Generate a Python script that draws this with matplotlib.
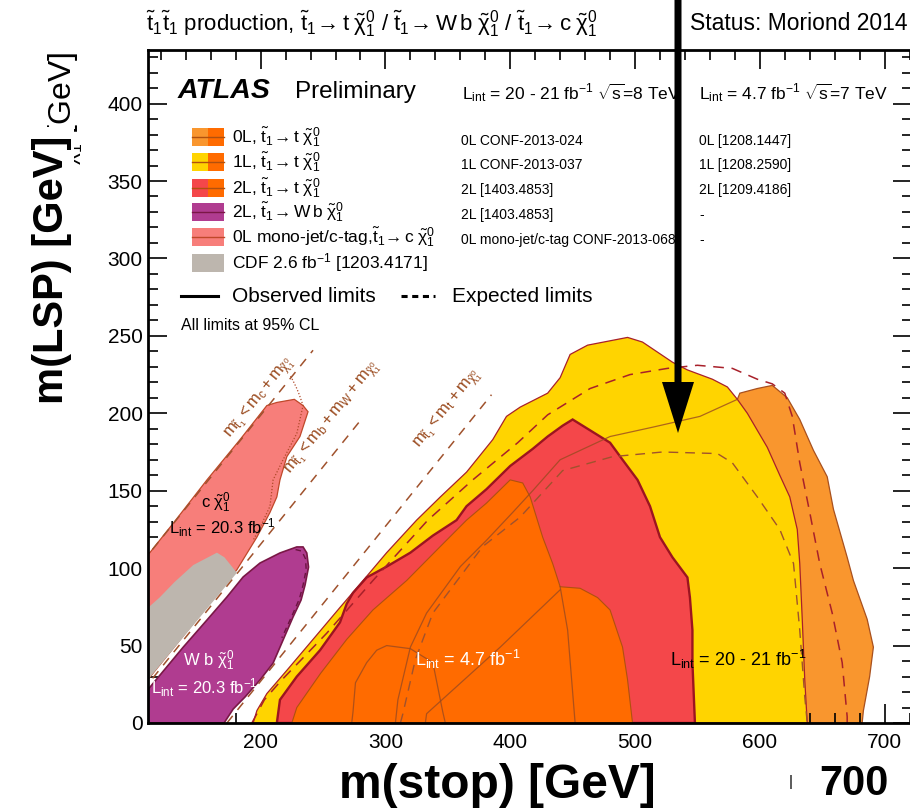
import matplotlib
matplotlib.use('Agg')
import matplotlib.pyplot as plt
from matplotlib.patches import Polygon, Rectangle
from matplotlib.lines import Line2D
from matplotlib.ticker import MultipleLocator

plt.rcParams['font.family'] = ['Liberation Sans', 'DejaVu Sans']
plt.rcParams['mathtext.fontset'] = 'custom'
plt.rcParams['mathtext.rm'] = 'Liberation Sans'
plt.rcParams['mathtext.it'] = 'Liberation Sans'
plt.rcParams['mathtext.bf'] = 'Liberation Sans:bold'

# ---------------- data (m_stop [GeV], m_LSP [GeV]) ----------------
# 0L 8 TeV observed exclusion (light orange)
lo_x = [308, 310, 320, 333, 360, 381, 402, 418, 440, 480, 514, 552, 582,
        584, 598, 610, 622, 632, 643, 654, 659, 670, 675, 686, 691, 688, 683, 682]
lo_y = [0, 15, 49, 71, 101, 118, 136, 150, 170, 185, 191, 198, 209,
        213, 216, 218, 210, 196, 176, 159, 138, 107, 92, 67, 49, 30, 8, 0]
# 1L 8 TeV observed exclusion (yellow)
yel_x = [194, 197, 205, 221, 242, 264, 280, 301, 325, 344, 365, 386, 397, 408, 430, 440,
         448, 462, 494, 506, 530, 542, 562, 574, 582, 590, 606, 616, 624, 630, 632, 634, 636, 638]
yel_y = [0, 8, 19, 34, 54, 75, 90, 110, 131, 146, 162, 183, 198, 204, 213, 223,
         238, 244, 249, 246, 233, 228, 222, 217, 209, 200, 178, 160, 146, 125, 103, 67, 28, 0]
# 2L 8 TeV observed exclusion (red)
red_x = [213, 215.5, 229, 247.6, 263.6, 269, 274, 285, 301, 320, 338, 357, 365, 381, 400, 418, 430,
         442, 450, 464, 480, 490, 502, 512, 520, 530, 542, 544, 546, 546, 548]
red_y = [0, 15, 30, 47, 65, 77, 84, 94, 101, 110, 121, 131, 140, 151, 166, 177, 185,
         192, 196, 189, 181, 170, 157, 140, 120, 107, 94, 81, 60, 39, 0]
# 7 TeV exclusions (dark orange, union)
do_x = [225, 229, 248, 269, 290, 317, 344, 365, 381, 400, 410, 416, 426, 434, 440,
        456, 470, 480, 490, 494, 498]
do_y = [0, 10, 32, 54, 73, 92, 114, 131, 142, 157, 155, 146, 120, 103, 88,
        87, 81, 73, 49, 28, 0]
# 0L mono-jet / c-tag (pink)
pink_x = [105, 130, 157, 183.5, 205, 213, 227, 234, 238, 231.5, 221, 215.5, 213, 207.5, 197, 181, 105]
pink_y = [103.7, 129, 157, 183, 205, 207, 209, 205, 201, 185, 172, 157, 146, 136, 120, 99, 23.4]
pink_exp_x = [224, 226, 229, 231, 234, 229, 218, 210, 207.5, 200, 194]
pink_exp_y = [224, 221, 216, 212, 205, 187, 170, 157, 140, 127, 118]
# CDF (gray)
cdf_x = [105, 119, 131, 146, 165, 171, 181, 105]
cdf_y = [71, 81, 91, 102, 110, 107, 97, 23.4]
# 2L stop -> W b chi (purple)
pur_x = [105, 105, 138, 157, 173, 186, 199.5, 215.5, 229, 234, 237, 238.4, 235.6, 232.4,
         226, 218, 210, 199.5, 187.5, 178, 170.7]
pur_y = [0, 17, 49, 66.5, 81.4, 94.3, 103.3, 109.8, 113.7, 113.7, 109.8, 100.7, 89.1, 79.4,
         68.5, 53.6, 38.7, 27.8, 16.8, 9, 0]
pur_exp_x = [228, 233, 236, 236.5, 234, 231, 225, 217]
pur_exp_y = [112, 111, 106, 99, 89, 80, 69, 55]
# expected limit 8 TeV (dark red dashed)
expA_x = [193, 203, 216, 253, 290, 334, 370, 406, 430, 464, 496, 526, 550, 578, 598, 610,
          620, 626, 632, 640, 648, 658, 666, 670, 670]
expA_y = [0, 15, 27, 58, 92, 131, 157, 181, 199, 216, 225, 229, 231, 229, 222, 219,
          213, 198, 168, 136, 103, 71, 39, 4, 0]
# expected limit (brown dashed)
expB_x = [312, 314, 324, 338, 378, 408, 442, 482, 522, 566, 578, 598, 616, 627, 632, 636, 638]
expB_y = [0, 6, 41, 71, 114, 133, 163, 172, 175, 174, 168, 146, 125, 103, 60, 17, 0]
# 7 TeV observed contour lines inside the dark orange area
c7a_x = [273, 274, 276, 285, 293, 301, 320, 338, 346, 348]
c7a_y = [0, 7, 26, 39, 47, 50, 48, 39, 7, 0]
c7b_x = [332, 333, 392, 440]
c7b_y = [0, 6, 49, 86]
c7c_x = [440, 446, 452]
c7c_y = [88, 60, 0]
# kinematic limits: m_stop - m_LSP offsets and drawn ranges
kin_offset = [1.3, 84.6, 173.0]
kin_xmin = [105, 105, 173]
kin_xmax = [242, 282, 385]

xticks = [200, 300, 400, 500, 600, 700]
yticks = [0, 50, 100, 150, 200, 250, 300, 350, 400]

# colours
C_LO = '#F9962E'
C_YEL = '#FFD400'
C_RED = '#F4474A'
C_DO = '#FF6B00'
C_PINK = '#F77E7A'
C_CDF = '#BDB6AE'
C_PUR = '#B03C90'
C_LINE = '#A8501E'
C_DRED = '#A8202A'

W, H = 910, 808
fig = plt.figure(figsize=(W / 100, H / 100), dpi=100)
ax = fig.add_axes([148.3 / W, 1 - 723 / H, (911.5 - 148.3) / W, 673 / H])
ax.set_xlim(110, 110 + (911.5 - 148.3) / 1.248)
ax.set_ylim(0, 434.6)


def fx(px):
    return px / W


def fy(py):
    return 1 - py / H


def poly(xs, ys, color, z, ec=None, lw=0.9):
    ax.add_patch(Polygon(list(zip(xs, ys)), closed=True, facecolor=color,
                         edgecolor=ec if ec else 'none', linewidth=lw, zorder=z))


poly(lo_x, lo_y, C_LO, 1, C_LINE, 0.9)
poly(yel_x, yel_y, C_YEL, 2, C_DRED, 0.9)
poly(red_x, red_y, C_RED, 3, '#9C1420', 1.7)
poly(do_x, do_y, C_DO, 4, '#B0500F', 0.8)
poly(pink_x, pink_y, C_PINK, 2, '#C0482A', 0.9)
poly(cdf_x, cdf_y, C_CDF, 3)
poly(pur_x, pur_y, C_PUR, 2, '#7A1846', 1.2)

# contour lines
ax.plot(lo_x[:13], lo_y[:13], color='#9A4A20', lw=0.9, alpha=0.8, zorder=5)
for cx, cy in [(c7a_x, c7a_y), (c7b_x, c7b_y), (c7c_x, c7c_y)]:
    ax.plot(cx, cy, color='#9A4A20', lw=0.9, alpha=0.8, zorder=5)
ax.plot(expA_x, expA_y, color=C_DRED, lw=1.1, ls=(0, (7, 5)), zorder=5)
ax.plot(expB_x, expB_y, color='#A0522D', lw=1.0, ls=(0, (7, 5)), zorder=5)
ax.plot(pink_exp_x, pink_exp_y, color='#B04A2A', lw=0.9, ls=(0, (1, 1.5)), zorder=5)
ax.plot(pur_exp_x, pur_exp_y, color='#6A1440', lw=1.0, ls=(0, (4, 3)), zorder=5)

# kinematic lines
for off, x0, x1 in zip(kin_offset, kin_xmin, kin_xmax):
    ax.plot([x0, x1], [x0 - off, x1 - off], color='#A0522D', lw=1.1,
            ls=(0, (6, 5)), zorder=6)

kin_labels = [r"$m_{\tilde{t}_1} < m_c + m_{\tilde{\chi}^0_1}$",
              r"$m_{\tilde{t}_1} < m_b + m_W + m_{\tilde{\chi}^0_1}$",
              r"$m_{\tilde{t}_1} < m_t + m_{\tilde{\chi}^0_1}$"]
kin_lab_pos = [(199, 210), (258, 197), (350, 203)]
for lab, (lx, ly) in zip(kin_labels, kin_lab_pos):
    ax.text(lx, ly, lab, rotation=51, rotation_mode='anchor', ha='center', va='center',
            fontsize=12, color='#9A4A1E', zorder=7)

# in-plot texts
ax.text(164, 142, r"c $\tilde{\chi}^0_1$", fontsize=12, ha='center', va='center', zorder=7)
ax.text(169, 126, r"L$_{\rm int}$ = 20.3 fb$^{-1}$", fontsize=12, ha='center', va='center', zorder=7)
ax.text(158, 40, r"W b $\tilde{\chi}^0_1$", fontsize=12, ha='center', va='center', color='white', zorder=7)
ax.text(155, 23, r"L$_{\rm int}$ = 20.3 fb$^{-1}$", fontsize=12, ha='center', va='center', color='white', zorder=7)
ax.text(366, 41, r"L$_{\rm int}$ = 4.7 fb$^{-1}$", fontsize=13, ha='center', va='center', color='white', zorder=7)
ax.text(583, 41, r"L$_{\rm int}$ = 20 - 21 fb$^{-1}$", fontsize=13, ha='center', va='center', color='black', zorder=7)

# axes styling
ax.xaxis.set_minor_locator(MultipleLocator(20))
ax.yaxis.set_minor_locator(MultipleLocator(10))
ax.set_xticks(xticks)
ax.set_yticks(yticks)
ax.set_xticklabels([str(v) for v in xticks])
ax.set_yticklabels([str(v) for v in yticks])
ax.tick_params(which='both', direction='in', top=True, right=True, labelsize=15, width=1.2)
ax.tick_params(which='major', length=14)
ax.tick_params(which='minor', length=7.5)
ax.tick_params(axis='x', pad=7)
ax.tick_params(axis='y', pad=4)
for s in ax.spines.values():
    s.set_linewidth(2.0)
    s.set_zorder(10)

# title row
fig.text(fx(146), fy(24), r"$\tilde{t}_1\tilde{t}_1$ production, $\tilde{t}_1\!\rightarrow t\;\tilde{\chi}^0_1$ / $\tilde{t}_1\!\rightarrow W\,b\;\tilde{\chi}^0_1$ / $\tilde{t}_1\!\rightarrow c\;\tilde{\chi}^0_1$",
         fontsize=16, ha='left', va='center')
fig.text(fx(908), fy(24), "Status: Moriond 2014", fontsize=16.5, ha='right', va='center')

# header inside plot
fig.text(fx(178), fy(91), "ATLAS", fontsize=20.5, fontweight='bold', fontstyle='italic', va='center')
fig.text(fx(295), fy(92), "Preliminary", fontsize=17.5, va='center')
fig.text(fx(462), fy(93), r"L$_{\rm int}$ = 20 - 21 fb$^{-1}$ $\sqrt{\rm s}$=8 TeV", fontsize=12.5, va='center')
fig.text(fx(699), fy(93), r"L$_{\rm int}$ = 4.7 fb$^{-1}$ $\sqrt{\rm s}$=7 TeV", fontsize=12.5, va='center')

# legend
leg_labels = [r"0L, $\tilde{t}_1\!\rightarrow t\;\tilde{\chi}^0_1$",
              r"1L, $\tilde{t}_1\!\rightarrow t\;\tilde{\chi}^0_1$",
              r"2L, $\tilde{t}_1\!\rightarrow t\;\tilde{\chi}^0_1$",
              r"2L, $\tilde{t}_1\!\rightarrow W\,b\;\tilde{\chi}^0_1$",
              r"0L mono-jet/c-tag,$\tilde{t}_1\!\rightarrow c\;\tilde{\chi}^0_1$",
              r"CDF 2.6 fb$^{-1}$ [1203.4171]"]
leg_left = [C_LO, C_YEL, C_RED, C_PUR, C_PINK, C_CDF]
leg_right = [C_DO, C_DO, C_DO, C_PUR, C_PINK, C_CDF]
leg_line = ['#B0500F', '#B0500F', '#B0500F', '#7A1846', '#C0482A', None]
ref8 = ["0L CONF-2013-024", "1L CONF-2013-037", "2L [1403.4853]", "2L [1403.4853]",
        "0L mono-jet/c-tag CONF-2013-068"]
ref7 = ["0L [1208.1447]", "1L [1208.2590]", "2L [1209.4186]", "-", "-"]
row_y = [137, 162, 188, 212, 237, 263]
ref_y = [141, 165, 190, 215, 240]
for i, lab in enumerate(leg_labels):
    cy = row_y[i]
    fig.add_artist(Rectangle((fx(192), fy(cy + 9)), 16 / W, 18 / H, facecolor=leg_left[i],
                             edgecolor='none', transform=fig.transFigure, zorder=8))
    fig.add_artist(Rectangle((fx(208), fy(cy + 9)), 16 / W, 18 / H, facecolor=leg_right[i],
                             edgecolor='none', transform=fig.transFigure, zorder=8))
    if leg_line[i]:
        fig.add_artist(Line2D([fx(192), fx(224)], [fy(cy), fy(cy)], color=leg_line[i], lw=1.0,
                              transform=fig.transFigure, zorder=9))
    fig.text(fx(232), fy(cy), lab, fontsize=12.5, va='center', zorder=9)
for i in range(5):
    fig.text(fx(461), fy(ref_y[i]), ref8[i], fontsize=10, va='center')
    fig.text(fx(699), fy(ref_y[i]), ref7[i], fontsize=10, va='center')

fig.add_artist(Line2D([fx(181), fx(218)], [fy(296), fy(296)], color='black', lw=2.2,
                      transform=fig.transFigure))
fig.text(fx(232), fy(296), "Observed limits", fontsize=15, va='center')
fig.add_artist(Line2D([fx(401), fx(435)], [fy(296), fy(296)], color='black', lw=2.2, ls=(0, (2, 1.5)),
                      transform=fig.transFigure))
fig.text(fx(452), fy(296), "Expected limits", fontsize=15, va='center')
fig.text(fx(181), fy(325), "All limits at 95% CL", fontsize=11.5, va='center')

# original y label (partly covered) and overlay labels
fig.text(fx(66), fy(121), r"m$_{\tilde{\chi}^0_1}$ [GeV]", rotation=90, fontsize=23,
         ha='center', va='center', zorder=1)
fig.add_artist(Rectangle((0, fy(450)), fx(74), (450 - 127) / H, facecolor='white', edgecolor='none',
                         transform=fig.transFigure, zorder=2))
fig.text(fx(52), fy(270), "m(LSP) [GeV]", rotation=90, fontsize=30, fontweight='bold',
         ha='center', va='center', zorder=3)
fig.text(fx(497), fy(785), "m(stop) [GeV]", fontsize=34.5, fontweight='bold', ha='center', va='center')
fig.text(fx(854), fy(784), "700", fontsize=30, fontweight='bold', ha='center', va='center')
fig.text(fx(791), fy(782), "|", fontsize=11, ha='center', va='center')

# black arrow overlay
arrow_px = [(674.5, -5), (681.5, -5), (681.5, 382), (694, 382), (678, 433), (662, 382), (674.5, 382)]
fig.add_artist(Polygon([(fx(a), fy(b)) for a, b in arrow_px], closed=True, facecolor='black',
                       edgecolor='none', transform=fig.transFigure, zorder=20))

fig.savefig('out.png', dpi=100)
